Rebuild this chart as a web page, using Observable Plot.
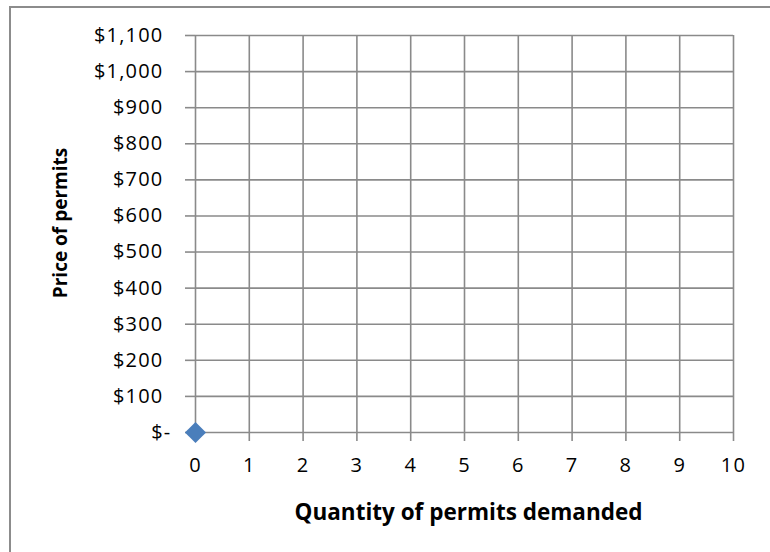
<!DOCTYPE html>
<html>
<head>
<meta charset="utf-8">
<script src="https://cdn.jsdelivr.net/npm/d3@7"></script>
<script src="https://cdn.jsdelivr.net/npm/@observablehq/plot@0.6"></script>
<style>
  body { margin: 0; background: #fff; }
  #chart { width: 770px; height: 552px; overflow: hidden; }
  #chart svg text { font-family: 'Open Sans', sans-serif; }
  #chart svg g[aria-label="x-axis tick label"] text,
  #chart svg g[aria-label="y-axis tick label"] text { font-size: 20px; letter-spacing: 1.2px; }
  #chart svg .xtitle text { font-size: 22.5px; }
  #chart svg .ytitle text { font-size: 19px; }
</style>
</head>
<body>
<div id="chart"></div>
<script>
const quantityTicks = [0, 1, 2, 3, 4, 5, 6, 7, 8, 9, 10];
const priceTicks = [0, 100, 200, 300, 400, 500, 600, 700, 800, 900, 1000, 1100];
const quantities = [0];
const prices = [0];
const xTitle = "Quantity of permits demanded";
const yTitle = "Price of permits";

const points = quantities.map((q, i) => ({q, p: prices[i]}));
const gridColor = "#8a8a8a";
const fmt = d3.format("$,");

const chart = Plot.plot({
  width: 770,
  height: 552,
  marginLeft: 195,
  marginRight: 37,
  marginTop: 35,
  marginBottom: 120,
  style: {fontFamily: "'Open Sans', sans-serif", fontSize: "20px", color: "#000", background: "#fff"},
  x: {domain: [0, 10], ticks: quantityTicks},
  y: {domain: [0, 1100], ticks: priceTicks},
  marks: [
    Plot.gridX(quantityTicks, {stroke: gridColor, strokeOpacity: 1, strokeWidth: 1.6}),
    Plot.gridY(priceTicks, {stroke: gridColor, strokeOpacity: 1, strokeWidth: 1.6}),
    Plot.axisX(quantityTicks, {tickSize: 9, tickPadding: 16, stroke: gridColor, strokeWidth: 1.6, label: null, fill: "#000"}),
    Plot.axisY(priceTicks, {tickSize: 10, tickPadding: 22, stroke: gridColor, strokeWidth: 1.6, label: null, fill: "#000",
      tickFormat: d => d === 0 ? "$-" : fmt(d)}),
    Plot.dot(points, {x: "q", y: "p", symbol: "diamond2", r: 9.5, fill: "#4a7ebb", stroke: "none"}),
    Plot.text([xTitle], {frameAnchor: "bottom", dx: 4, dy: 80, textAnchor: "middle", fontWeight: "bold", lineAnchor: "middle", fill: "#000", className: "xtitle"}),
    Plot.text([yTitle], {frameAnchor: "left", dx: -135, dy: -11, textAnchor: "middle", rotate: -90, fontWeight: "bold", lineAnchor: "middle", fill: "#000", className: "ytitle"})
  ]
});

// accounting-style zero label sits a little further right
d3.select(chart).selectAll('g[aria-label="y-axis tick label"] text')
  .filter(function() { return this.textContent === "$-"; })
  .attr("dx", 8);

d3.select(chart).insert("path", ":first-child")
  .attr("d", "M10,560 V7 H780")
  .attr("fill", "none")
  .attr("stroke", "#8c8c8c")
  .attr("stroke-width", 2);

document.getElementById("chart").appendChild(chart);
</script>
</body>
</html>
